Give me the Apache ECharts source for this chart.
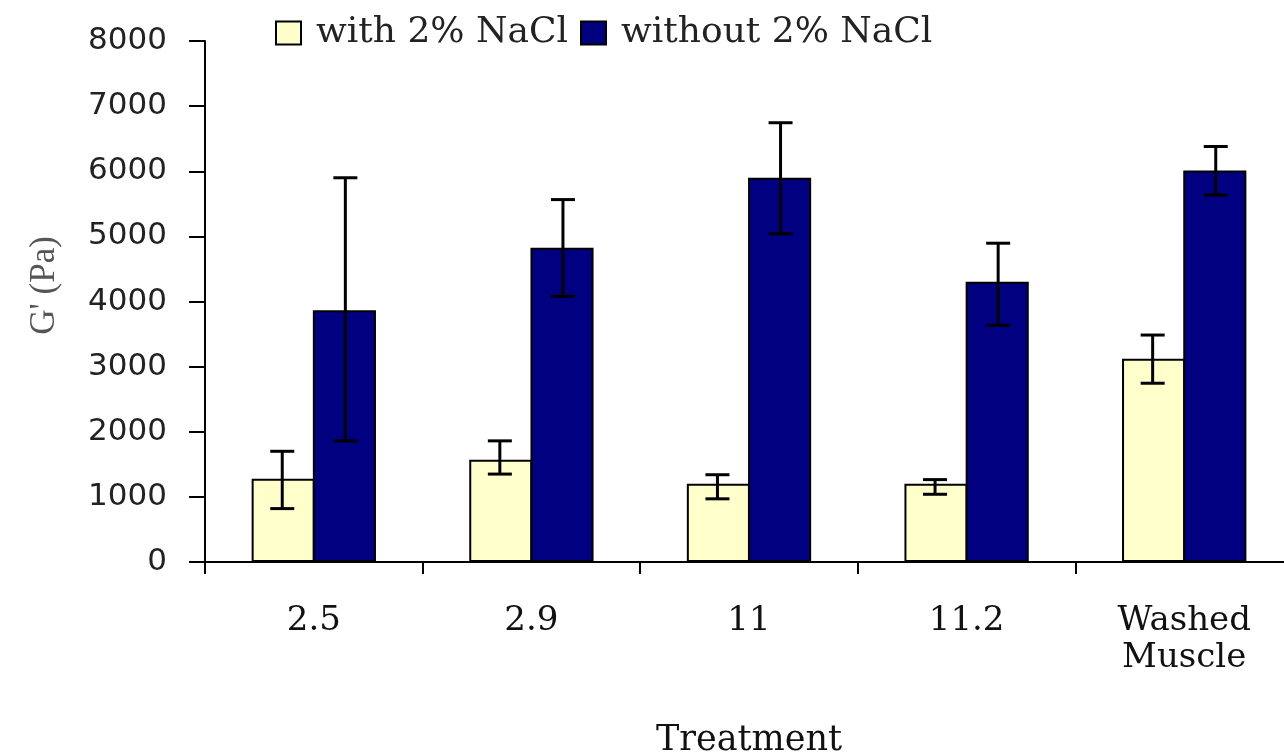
<!DOCTYPE html>
<html>
<head>
<meta charset="utf-8">
<script src="https://cdn.jsdelivr.net/npm/echarts@6/dist/echarts.min.js"></script>
<style>
html,body{margin:0;padding:0;background:#fff;}
#chart{width:1284px;height:752px;}
</style>
</head>
<body>
<div id="chart"></div>
<script>
const categories = ['2.5', '2.9', '11', '11.2', 'Washed\nMuscle'];
const seriesNames = ['with 2% NaCl', 'without 2% NaCl'];
const withNaCl = [1280, 1570, 1200, 1200, 3120];
const withNaClLow = [820, 1350, 970, 1040, 2745];
const withNaClHigh = [1700, 1860, 1340, 1265, 3485];
const withoutNaCl = [3865, 4825, 5900, 4305, 6010];
const withoutNaClLow = [1860, 4080, 5040, 3635, 5635];
const withoutNaClHigh = [5900, 5565, 6745, 4895, 6380];
const yTicks = { min: 0, max: 8000, interval: 1000 };

const BAR_FRAC = 0.29;

function errorBar(sign) {
  return function (params, api) {
    const i = api.value(0);
    const lo = api.coord([i, api.value(1)]);
    const hi = api.coord([i, api.value(2)]);
    const band = api.size([1, 0])[0];
    const x = lo[0] + sign * band * BAR_FRAC / 2;
    const cap = 12;
    const style = { stroke: '#000', lineWidth: 3 };
    return {
      type: 'group',
      children: [
        { type: 'line', shape: { x1: x, y1: hi[1], x2: x, y2: lo[1] }, style: style },
        { type: 'line', shape: { x1: x - cap, y1: hi[1], x2: x + cap, y2: hi[1] }, style: style },
        { type: 'line', shape: { x1: x - cap, y1: lo[1], x2: x + cap, y2: lo[1] }, style: style }
      ]
    };
  };
}

const chart = echarts.init(document.getElementById('chart'));
chart.setOption({
  animation: false,
  backgroundColor: '#fff',
  legend: {
    data: seriesNames,
    icon: 'rect',
    left: 270,
    top: 10,
    itemWidth: 25,
    itemHeight: 23,
    itemGap: 12,
    textStyle: { fontFamily: 'DejaVu Serif', fontSize: 36, color: '#222', padding: [0, 0, 0, 10] }
  },
  grid: { left: 205, right: -9, top: 41, bottom: 190, outerBoundsMode: 'none', containLabel: false },
  xAxis: {
    type: 'category',
    data: categories,
    name: 'Treatment',
    nameLocation: 'middle',
    nameGap: 161,
    nameTextStyle: { fontFamily: 'DejaVu Serif', fontSize: 35, color: '#111' },
    axisLine: { lineStyle: { color: '#000', width: 2 } },
    axisTick: { show: true, length: 12, lineStyle: { color: '#000', width: 2 } },
    axisLabel: { fontFamily: 'DejaVu Serif', fontSize: 34, lineHeight: 37, color: '#111', margin: 41, interval: 0 },
    splitLine: { show: false }
  },
  yAxis: {
    type: 'value',
    min: yTicks.min,
    max: yTicks.max,
    interval: yTicks.interval,
    name: "G' (Pa)",
    nameLocation: 'middle',
    nameGap: 143,
    nameRotate: 90,
    nameTextStyle: { fontFamily: 'Liberation Serif', fontSize: 35, color: '#555', padding: [0, 0, 0, 32] },
    axisLine: { show: true, lineStyle: { color: '#000', width: 2 } },
    axisTick: { show: true, length: 16, lineStyle: { color: '#000', width: 2 } },
    axisLabel: { fontFamily: 'DejaVu Sans', fontSize: 31, color: '#222', margin: 38, formatter: function (v) { return String(v); } },
    splitLine: { show: false }
  },
  series: [
    {
      name: seriesNames[0],
      type: 'bar',
      data: withNaCl,
      barWidth: (BAR_FRAC * 100) + '%',
      barGap: '-3%',
      itemStyle: { color: '#FFFFCC', borderColor: '#000', borderWidth: 2 }
    },
    {
      name: seriesNames[1],
      type: 'bar',
      data: withoutNaCl,
      barWidth: (BAR_FRAC * 100) + '%',
      barGap: '-3%',
      itemStyle: { color: '#000080', borderColor: '#000', borderWidth: 2 }
    },
    {
      type: 'custom',
      name: 'err1',
      renderItem: errorBar(-1),
      data: categories.map((c, i) => [i, withNaClLow[i], withNaClHigh[i]]),
      encode: { x: 0, y: [1, 2] },
      z: 10
    },
    {
      type: 'custom',
      name: 'err2',
      renderItem: errorBar(1),
      data: categories.map((c, i) => [i, withoutNaClLow[i], withoutNaClHigh[i]]),
      encode: { x: 0, y: [1, 2] },
      z: 10
    }
  ]
});
</script>
</body>
</html>
